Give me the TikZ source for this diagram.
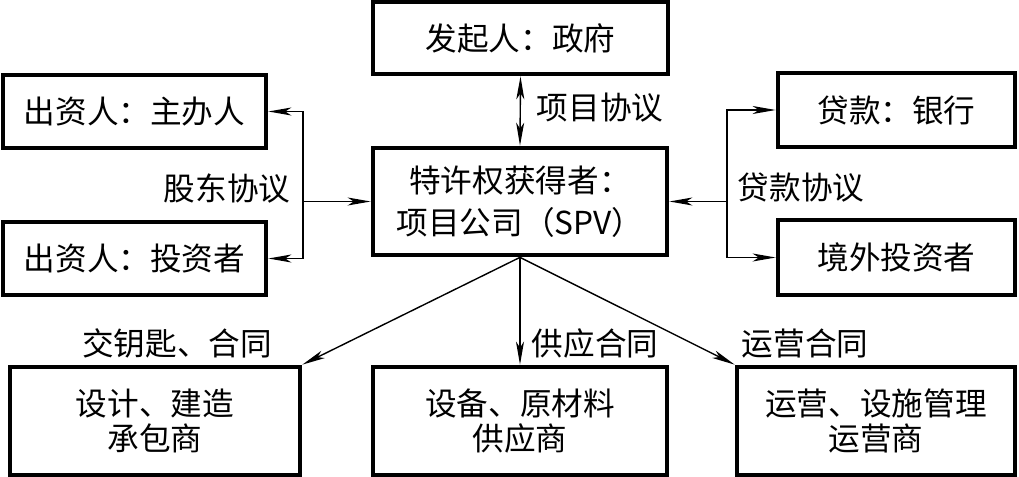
\documentclass[tikz,border=0pt]{standalone}
\usepackage{fontspec}
\newfontfamily\cjk{Noto Sans CJK SC}
\usetikzlibrary{arrows.meta}
\tikzset{
  every picture/.style={>={Stealth[length=4.6mm,width=1.6mm,inset=1.2mm]},
    font=\cjk\fontsize{18}{24}\selectfont},
  box/.style={draw, line width=2.7pt, inner sep=0pt, align=center},
  lowbox/.style={box, minimum width=5.88cm, minimum height=2.16cm,
    font=\cjk\fontsize{18}{20}\selectfont},
  link/.style={line width=0.8pt},
}

\begin{document}
\begin{tikzpicture}[x=0.02cm, y=-0.02cm]
  \path[use as bounding box] (0,0) rectangle (1019,477);
  % parties
  \node[box, minimum width=5.9cm, minimum height=1.44cm] (gov) at (520.5,38) {发起人：政府};
  \node[box, minimum width=5.88cm, minimum height=2.14cm] (spv) at (520,201.5) {特许权获得者：\\项目公司（SPV）};
  \node[box, minimum width=5.26cm, minimum height=1.46cm] (inv1) at (134.5,111.5) {出资人：主办人};
  \node[box, minimum width=5.26cm, minimum height=1.46cm] (inv2) at (134.5,258.5) {出资人：投资者};
  \node[box, minimum width=4.74cm, minimum height=1.48cm] (bank) at (896.5,110) {贷款：银行};
  \node[box, minimum width=4.74cm, minimum height=1.5cm] (foreign) at (896.5,257.5) {境外投资者};
  \node[lowbox, minimum width=5.8cm] (design) at (155,421) {设计、建造\\承包商};
  \node[lowbox] (equip) at (520,421) {设备、原材料\\供应商};
  \node[lowbox, minimum width=5.56cm] (oper) at (876,421) {运营、设施管理\\运营商};
  % contracts
  \coordinate (lbr) at (303,201.5);
  \coordinate (rbr) at (727,201.5);
  \draw[link,<->] (inv1.east) -| (lbr) |- (inv2.east);
  \draw[link,->] (lbr) -- (spv.west);
  \draw[link,<->] (bank.west) -| (rbr) |- (foreign.west);
  \draw[link,->] (rbr) -- (spv.east);
  \draw[link,<->] (gov.south) -- (spv.north);
  \draw[link,->] (spv.south) -- (design.north east);
  \draw[link,->] (spv.south) -- (equip.north);
  \draw[link,->] (spv.south) -- (oper.north west);
  \node (lproj) at (600,108) {项目协议};
  \node (lshare) at (227,188) {股东协议};
  \node (lloan) at (801,188) {贷款协议};
  \node (lturn) at (177,343) {交钥匙、合同};
  \node (lsup) at (595,343) {供应合同};
  \node (lop) at (805,343) {运营合同};
\end{tikzpicture}
\end{document}
